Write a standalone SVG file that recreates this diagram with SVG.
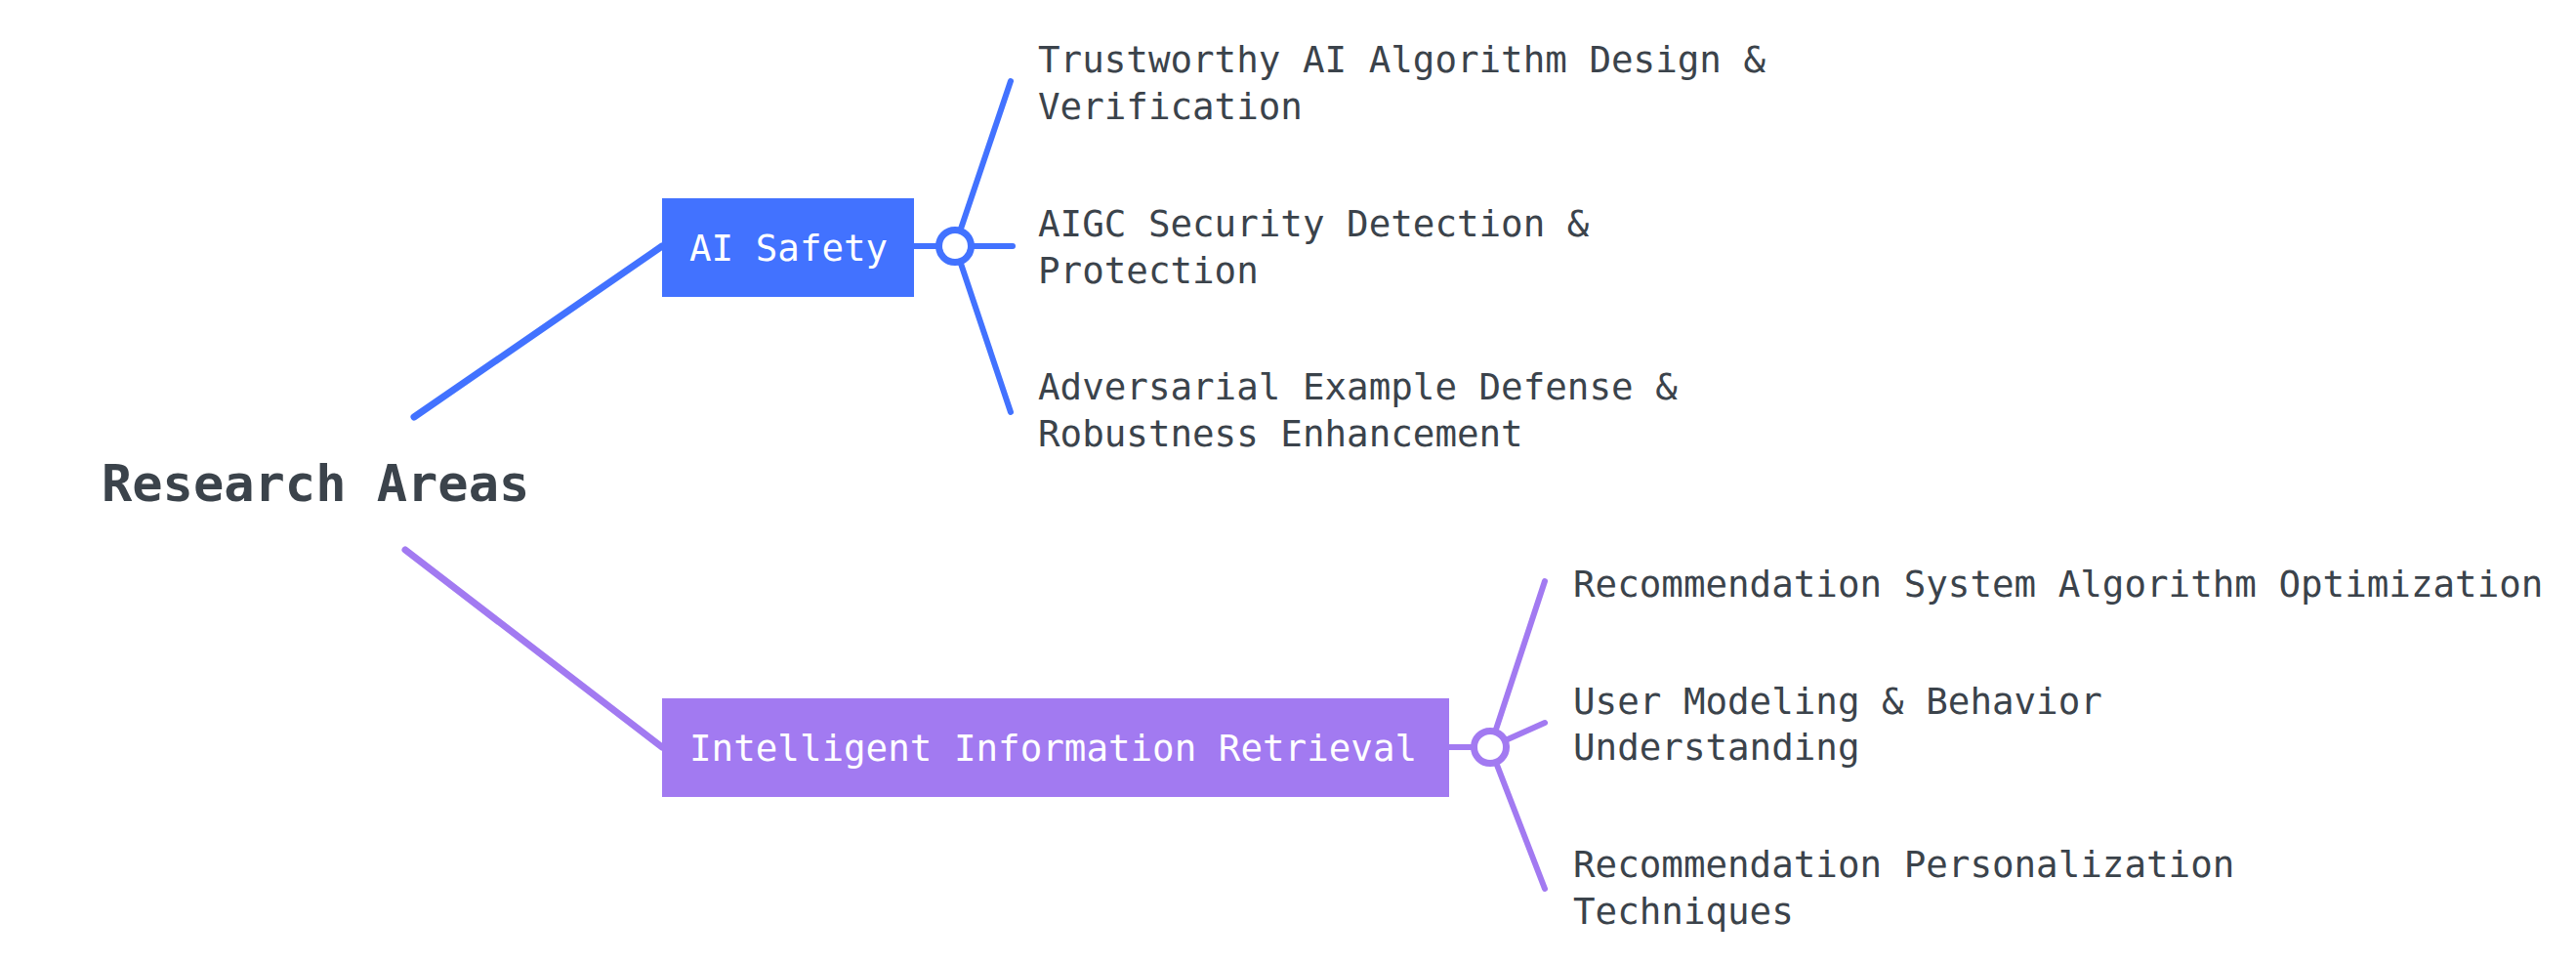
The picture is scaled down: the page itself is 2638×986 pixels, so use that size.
<svg xmlns="http://www.w3.org/2000/svg" width="2638" height="986" viewBox="0 0 2638 986">
<style>
.blue{stroke:#4272FF;}
.purple{stroke:#A27AF1;}
.ln{fill:none;stroke-width:6;stroke-linecap:round;}
.main{stroke-width:7;}
.hub{fill:#FFFFFF;stroke-width:7;}
.leaf{font-family:"DejaVu Sans Mono","Liberation Mono",monospace;font-size:37.5px;fill:#3B434B;}
.boxt{font-family:"DejaVu Sans Mono","Liberation Mono",monospace;font-size:37.5px;fill:#FFFFFF;}
.root{font-family:"DejaVu Sans Mono","Liberation Mono",monospace;font-size:52px;font-weight:bold;fill:#3B434B;}
</style>
<rect width="2638" height="986" fill="#FFFFFF"/>
<g id="connectors">
<line class="ln main blue" x1="424" y1="427" x2="678" y2="252"/>
<line class="ln main purple" x1="415" y1="563" x2="678" y2="765"/>
<line class="ln blue" x1="936" y1="252" x2="978" y2="252"/>
<line class="ln blue" x1="978" y1="252" x2="1035" y2="83"/>
<line class="ln blue" x1="978" y1="252" x2="1037" y2="252"/>
<line class="ln blue" x1="978" y1="252" x2="1035" y2="422"/>
<circle class="hub blue" cx="978" cy="252" r="16.5"/>
<line class="ln purple" x1="1484" y1="765" x2="1526" y2="765"/>
<line class="ln purple" x1="1526" y1="765" x2="1582" y2="595"/>
<line class="ln purple" x1="1526" y1="765" x2="1582" y2="740"/>
<line class="ln purple" x1="1526" y1="765" x2="1582" y2="910"/>
<circle class="hub purple" cx="1526" cy="765" r="16.5"/>
</g>
<g id="root">
<text class="root" x="104" y="513">Research Areas</text>
</g>
<g id="ai-safety">
<rect x="678" y="203" width="258" height="101" fill="#4272FF"/>
<text class="boxt" x="706" y="267">AI Safety</text>
</g>
<g id="iir">
<rect x="678" y="715" width="806" height="101" fill="#A27AF1"/>
<text class="boxt" x="706" y="779">Intelligent Information Retrieval</text>
</g>
<g id="leaf-trustworthy">
<text class="leaf" x="1063" y="74">Trustworthy AI Algorithm Design &amp;</text>
<text class="leaf" x="1063" y="122">Verification</text>
</g>
<g id="leaf-aigc">
<text class="leaf" x="1063" y="242">AIGC Security Detection &amp;</text>
<text class="leaf" x="1063" y="290">Protection</text>
</g>
<g id="leaf-adversarial">
<text class="leaf" x="1063" y="409">Adversarial Example Defense &amp;</text>
<text class="leaf" x="1063" y="457">Robustness Enhancement</text>
</g>
<g id="leaf-recsys">
<text class="leaf" x="1611" y="611">Recommendation System Algorithm Optimization</text>
</g>
<g id="leaf-user">
<text class="leaf" x="1611" y="731">User Modeling &amp; Behavior</text>
<text class="leaf" x="1611" y="778">Understanding</text>
</g>
<g id="leaf-personal">
<text class="leaf" x="1611" y="898">Recommendation Personalization</text>
<text class="leaf" x="1611" y="946">Techniques</text>
</g>
</svg>
